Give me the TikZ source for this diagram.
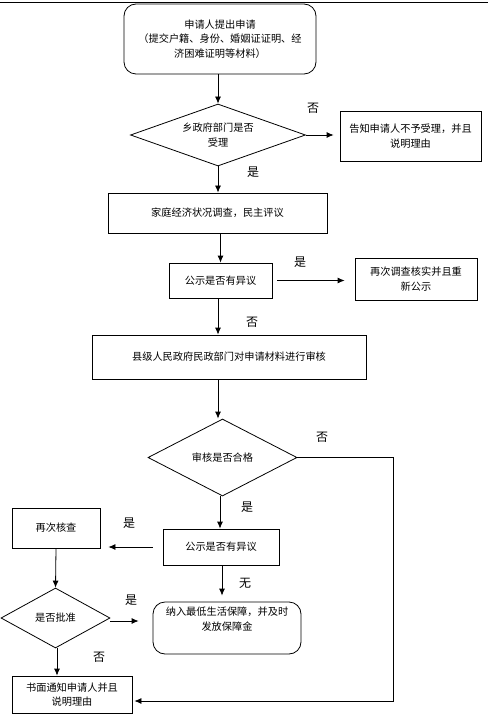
\documentclass[tikz,border=0pt]{standalone}
\usepackage{fontspec}
\newfontfamily\cjk{Noto Sans CJK SC}
\usetikzlibrary{shapes.geometric,arrows.meta}
\begin{document}
\begin{tikzpicture}[x=1pt,y=-1pt,
    font=\cjk\fontsize{10.2}{14.5}\selectfont,
    box/.style={draw,thick,rectangle,align=center,inner sep=1pt},
    rbox/.style={box,rounded corners=12pt},
    choice/.style={draw,thick,diamond,aspect=2.5,inner sep=0pt,align=center},
    lab/.style={font=\cjk\fontsize{12}{12}\selectfont,inner sep=0pt},
    arr/.style={thick,-{Latex[length=7pt,width=6pt]}}]
    \useasboundingbox (0,0) rectangle (488,719);
    \draw (0,2) -- (488,2);

    \node[rbox,minimum width=192pt,minimum height=70pt] (apply) at (220,39)
        {申请人提出申请\\（提交户籍、身份、婚姻证证明、经\\济困难证明等材料）};
    \node[choice,minimum width=175pt,minimum height=62pt] (accept) at (218,135)
        {乡政府部门是否\\受理};
    \node[box,minimum width=141pt,minimum height=50pt] (refuse) at (410.5,136)
        {告知申请人不予受理，并且\\说明理由};
    \node[box,minimum width=219pt,minimum height=40pt] (survey) at (217.5,213)
        {家庭经济状况调查，民主评议};
    \node[box,minimum width=103pt,minimum height=35pt] (pub1) at (220.5,280.5)
        {公示是否有异议};
    \node[box,minimum width=122pt,minimum height=42pt] (recheck1) at (416,279)
        {再次调查核实并且重\\新公示};
    \node[box,minimum width=274pt,minimum height=44pt] (county) at (229,357)
        {县级人民政府民政部门对申请材料进行审核};
    \node[choice,minimum width=149pt,minimum height=77pt] (pass) at (222.5,457.5)
        {审核是否合格};
    \node[box,minimum width=116pt,minimum height=36pt] (pub2) at (221,547)
        {公示是否有异议};
    \node[box,minimum width=88pt,minimum height=40pt] (recheck2) at (56,528)
        {再次核查};
    \node[choice,minimum width=109pt,minimum height=60pt] (approve) at (55.5,618)
        {是否批准};
    \node[rbox,minimum width=148pt,minimum height=52pt] (grant) at (227,628)
        {纳入最低生活保障，并及时\\发放保障金\\[4pt]};
    \node[box,minimum width=120pt,minimum height=37pt] (notify) at (72,694.5)
        {书面通知申请人并且\\说明理由};

    \node[lab] (l1) at (313,108) {否};
    \node[lab] (l2) at (253,172) {是};
    \node[lab] (l3) at (300,262) {是};
    \node[lab] (l4) at (252,322) {否};
    \node[lab] (l5) at (322,437) {否};
    \node[lab] (l6) at (247,507) {是};
    \node[lab] (l7) at (129,523) {是};
    \node[lab] (l8) at (245,583) {无};
    \node[lab] (l9) at (131,600) {是};
    \node[lab] (l10) at (99,657) {否};

    \coordinate (turn) at (393,457.5);

    \draw[arr] (apply.south -| accept.north) -- (accept.north);
    \draw[arr,shorten >=6pt] (accept.east) -- (accept.east -| refuse.west);
    \draw[arr] (accept.south) -- (survey.north -| accept.south);
    \draw[arr] (survey.south -| pub1.north) -- (pub1.north);
    \draw[arr,shorten <=5pt,shorten >=10pt] (pub1.east) -- (pub1.east -| recheck1.west);
    \draw[arr] (pub1.south -| 218,0) -- (county.north -| 218,0);
    \draw[arr] (county.south -| 218,0) -- (pass.north -| 218,0);
    \draw[arr,shorten >=2pt] (pass.east) -- (turn) |- ([yshift=-6.5pt]notify.east);
    \draw[arr] (pass.south -| 220,0) -- (pub2.north -| 220,0);
    \draw[arr,shorten <=10pt,shorten >=8pt] (pub2.west) -- (pub2.west -| recheck2.east);
    \draw[arr] (recheck2.south) -- (approve.north);
    \draw[arr,shorten >=14pt] ([yshift=-3pt]approve.east) -- ([yshift=-3pt]approve.east -| grant.west);
    \draw[arr,shorten >=6pt] (pub2.south -| 222,0) -- (grant.north -| 222,0);
    \draw[arr] (approve.south -| 57,0) -- (notify.north -| 57,0);
\end{tikzpicture}
\end{document}
